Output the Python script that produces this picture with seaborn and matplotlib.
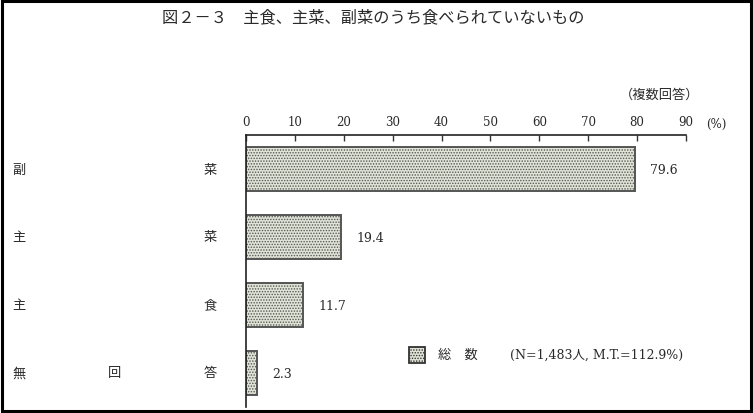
import matplotlib
matplotlib.use("Agg")
import matplotlib.pyplot as plt
import seaborn as sns
import pandas as pd
from matplotlib.patches import Rectangle
from matplotlib.transforms import blended_transform_factory

categories = ["副菜", "主菜", "主食", "無回答"]
values = [79.6, 19.4, 11.7, 2.3]
value_labels = ["79.6", "19.4", "11.7", "2.3"]
xticks = [0, 10, 20, 30, 40, 50, 60, 70, 80, 90]
title = "図２－３　主食、主菜、副菜のうち食べられていないもの"
legend_name = "総　数"
legend_note = "(N=1,483人, M.T.=112.9%)"
note = "（複数回答）"

sns.set_theme(style="white")
plt.rcParams["font.family"] = ["Noto Sans CJK JP", "DejaVu Sans"]
plt.rcParams["hatch.linewidth"] = 0.7
plt.rcParams["hatch.color"] = "#97a088"
NUMFONT = ["DejaVu Serif", "Noto Sans CJK JP"]
TXT = "#2a2a2a"
FILL = "#e0e4d6"

df = pd.DataFrame({"cat": categories, "val": values})

fig = plt.figure(figsize=(7.53, 4.14), dpi=100)
ax = fig.add_axes([246/753, 1 - 408/414, 440/753, (408-136)/414])

sns.barplot(data=df, x="val", y="cat", orient="h", width=0.65,
            color=FILL, edgecolor="#555555", linewidth=1.4, ax=ax, saturation=1)
for p in ax.patches:
    p.set_hatch("......")
    p.set_facecolor(FILL)

ax.set_xlim(0, 90)
ax.set_ylim(3.5, -0.5)
ax.set_xticks(xticks)
ax.set_xticklabels([str(t) for t in xticks], fontfamily=NUMFONT)
ax.xaxis.tick_top()
ax.tick_params(axis="x", direction="in", length=4, width=1, color="#333333",
               labelsize=8.5, labelcolor=TXT, pad=5, top=True, bottom=False)
ax.set_yticks([])
ax.set_xlabel("")
ax.set_ylabel("")
for s in ["right", "bottom"]:
    ax.spines[s].set_visible(False)
for s in ["top", "left"]:
    ax.spines[s].set_color("#222222")
    ax.spines[s].set_linewidth(1.2)

# value labels
for i, (v, lab) in enumerate(zip(values, value_labels)):
    ax.annotate(lab, (v, i), xytext=(11, 0), textcoords="offset points",
                va="center", ha="left", fontsize=9, color=TXT, family=NUMFONT)

# category labels spread across the label column
tr = blended_transform_factory(fig.transFigure, ax.transData)
left_x, right_x = 19/753, 210/753
for i, cat in enumerate(categories):
    n = len(cat)
    for j, ch in enumerate(cat):
        xx = left_x + (right_x - left_x) * j / (n - 1)
        fig.text(xx, i, ch, transform=tr, ha="center", va="center",
                 fontsize=9.5, color=TXT)

fig.text(373/753, 1 - 18/414, title, ha="center", va="center", fontsize=11.7, color=TXT)
fig.text(660/753, 1 - 95/414, note, ha="center", va="center", fontsize=9.5, color=TXT)
fig.text(716/753, 1 - 124/414, "(%)", ha="center", va="center", fontsize=8.5,
         color=TXT, family=NUMFONT)

# legend
fig.patches.append(Rectangle((409/753, 1 - 364/414), 16/753, 16/414, transform=fig.transFigure,
                             facecolor=FILL, edgecolor="#333333", linewidth=1.3,
                             hatch="......", figure=fig))
fig.text(438/753, 1 - 355/414, legend_name, ha="left", va="center", fontsize=9.5, color=TXT)
fig.text(510/753, 1 - 355/414, legend_note, ha="left", va="center", fontsize=9,
         color=TXT, family=NUMFONT)

# outer frame
fig.patches.append(Rectangle((0.002, 0.004), 0.995, 0.992, transform=fig.transFigure,
                             fill=False, edgecolor="black", linewidth=2.2, figure=fig))

fig.savefig("out.png", dpi=100)
